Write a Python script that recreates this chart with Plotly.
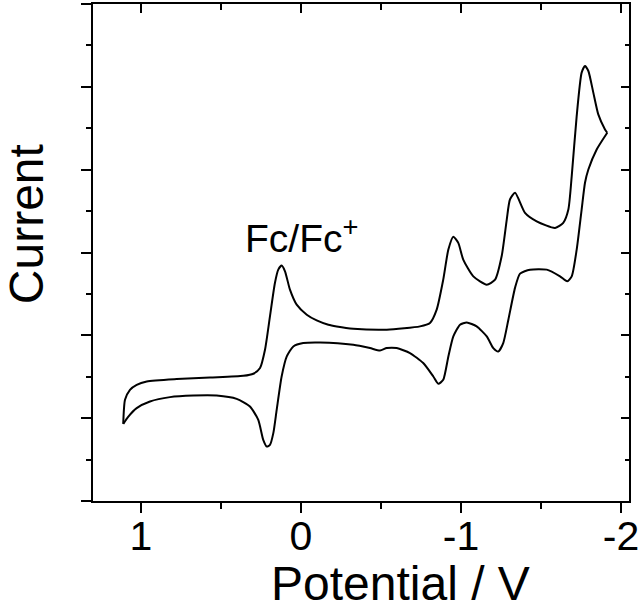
import plotly.graph_objects as go

# Cathodic (forward) branch: potential (V) and current (arb. units)
fwd_potential = [1.111, 1.100, 1.069, 1.027, 0.964, 0.777, 0.569, 0.361, 0.298, 0.256,
                 0.225, 0.194, 0.163, 0.142, 0.121, 0.100, 0.069, 0.027, -0.036, -0.098,
                 -0.171, -0.223, -0.327, -0.536, -0.744, -0.806, -0.848, -0.889, -0.921, -0.952,
                 -0.983, -1.014, -1.077, -1.161, -1.213, -1.254, -1.286, -1.306, -1.338, -1.400,
                 -1.473, -1.588, -1.639, -1.671, -1.692, -1.723, -1.754, -1.775, -1.796, -1.827,
                 -1.858, -1.900, -1.914]
fwd_current = [0.931, 1.221, 1.342, 1.403, 1.443, 1.472, 1.491, 1.511, 1.536, 1.605,
               1.826, 2.229, 2.632, 2.793, 2.842, 2.773, 2.551, 2.370, 2.249, 2.180,
               2.128, 2.108, 2.080, 2.068, 2.108, 2.149, 2.310, 2.672, 3.035, 3.189,
               3.116, 2.914, 2.712, 2.612, 2.672, 2.954, 3.398, 3.640, 3.721, 3.479,
               3.377, 3.297, 3.358, 3.519, 3.921, 4.647, 5.172, 5.252, 5.191, 4.930,
               4.667, 4.486, 4.446]

# Return branch
rev_potential = [-1.914, -1.848, -1.796, -1.775, -1.754, -1.723, -1.692, -1.664, -1.619, -1.536,
                 -1.431, -1.369, -1.338, -1.296, -1.264, -1.233, -1.202, -1.161, -1.098, -1.036,
                 -0.994, -0.952, -0.921, -0.889, -0.858, -0.827, -0.764, -0.681, -0.598, -0.536,
                 -0.494, -0.431, -0.327, -0.119, -0.014, 0.048, 0.089, 0.121, 0.152, 0.173,
                 0.194, 0.214, 0.236, 0.267, 0.319, 0.402, 0.527, 0.673, 0.819, 0.944,
                 1.027, 1.079, 1.111]
rev_current = [4.446, 4.244, 4.002, 3.842, 3.519, 3.035, 2.712, 2.652, 2.712, 2.793,
               2.793, 2.745, 2.576, 2.189, 1.907, 1.805, 1.846, 1.987, 2.108, 2.156,
               2.128, 1.987, 1.745, 1.463, 1.415, 1.503, 1.665, 1.786, 1.846, 1.846,
               1.817, 1.846, 1.886, 1.914, 1.907, 1.866, 1.745, 1.503, 1.100, 0.819,
               0.677, 0.657, 0.738, 0.979, 1.140, 1.233, 1.273, 1.273, 1.254, 1.201,
               1.121, 1.019, 0.931]

x_tickvals = [1, 0, -1, -2]
x_ticktext = ["1", "0", "-1", "-2"]

FONT = "Liberation Sans, Arial, sans-serif"

fig = go.Figure()
for xs, ys in [(fwd_potential, fwd_current), (rev_potential, rev_current)]:
    fig.add_trace(go.Scatter(x=xs, y=ys, mode="lines",
                             line=dict(color="black", width=2, shape="spline", smoothing=0.6),
                             showlegend=False, hoverinfo="skip"))
# invisible trace for mirrored axes
fig.add_trace(go.Scatter(x=[0], y=[3], xaxis="x2", yaxis="y2", mode="markers",
                         marker=dict(opacity=0), showlegend=False, hoverinfo="skip"))

xrange = [1.3, -2.05]
yrange = [0, 6]

fig.update_layout(
    width=642, height=604,
    margin=dict(l=93, r=13, t=4, b=103, autoexpand=False),
    paper_bgcolor="white", plot_bgcolor="white",
    font=dict(family=FONT, color="black"),
    xaxis=dict(range=xrange, tickvals=x_tickvals, ticktext=x_ticktext,
               ticks="outside", ticklen=10, tickwidth=2, tickcolor="black",
               minor=dict(dtick=0.5, tick0=0, ticks="outside", ticklen=6, tickwidth=2, tickcolor="black"),
               showline=True, linewidth=2, linecolor="black", showgrid=False, zeroline=False,
               tickfont=dict(size=41, family=FONT), ticklabelstandoff=-12, automargin=False),
    yaxis=dict(range=yrange, dtick=1, tick0=0, showticklabels=False,
               ticks="outside", ticklen=10, tickwidth=2, tickcolor="black",
               minor=dict(dtick=0.5, tick0=0, ticks="outside", ticklen=5, tickwidth=2, tickcolor="black"),
               showline=True, linewidth=2, linecolor="black", showgrid=False, zeroline=False,
               automargin=False),
    xaxis2=dict(range=xrange, overlaying="x", side="top", tickvals=x_tickvals,
                showticklabels=False, ticks="inside", ticklen=9, tickwidth=2, tickcolor="black",
                minor=dict(dtick=0.5, tick0=0, ticks="inside", ticklen=6, tickwidth=2, tickcolor="black"),
                showline=True, linewidth=2, linecolor="black", showgrid=False, zeroline=False),
    yaxis2=dict(range=yrange, overlaying="y", side="right", dtick=1, tick0=0,
                showticklabels=False, ticks="inside", ticklen=8, tickwidth=2, tickcolor="black",
                minor=dict(dtick=0.5, tick0=0, ticks="inside", ticklen=4, tickwidth=2, tickcolor="black"),
                showline=True, linewidth=2, linecolor="black", showgrid=False, zeroline=False),
    annotations=[
        dict(text="Fc/Fc<sup>+</sup>", x=0.3625, y=3.2, xref="x", yref="y",
             xanchor="left", yanchor="middle", showarrow=False,
             font=dict(size=39, family=FONT, color="black")),
        dict(text="Current", x=-0.125, y=0.557, xref="paper", yref="paper",
             xanchor="center", yanchor="middle", textangle=-90, showarrow=False,
             font=dict(size=48, family=FONT, color="black")),
        dict(text="Potential / V", x=0.573, y=-0.165, xref="paper", yref="paper",
             xanchor="center", yanchor="middle", showarrow=False,
             font=dict(size=48, family=FONT, color="black")),
    ],
)

fig.write_html("out.html", config={"displayModeBar": False},
               post_script="document.body.style.margin='0';document.body.style.overflow='hidden';")
